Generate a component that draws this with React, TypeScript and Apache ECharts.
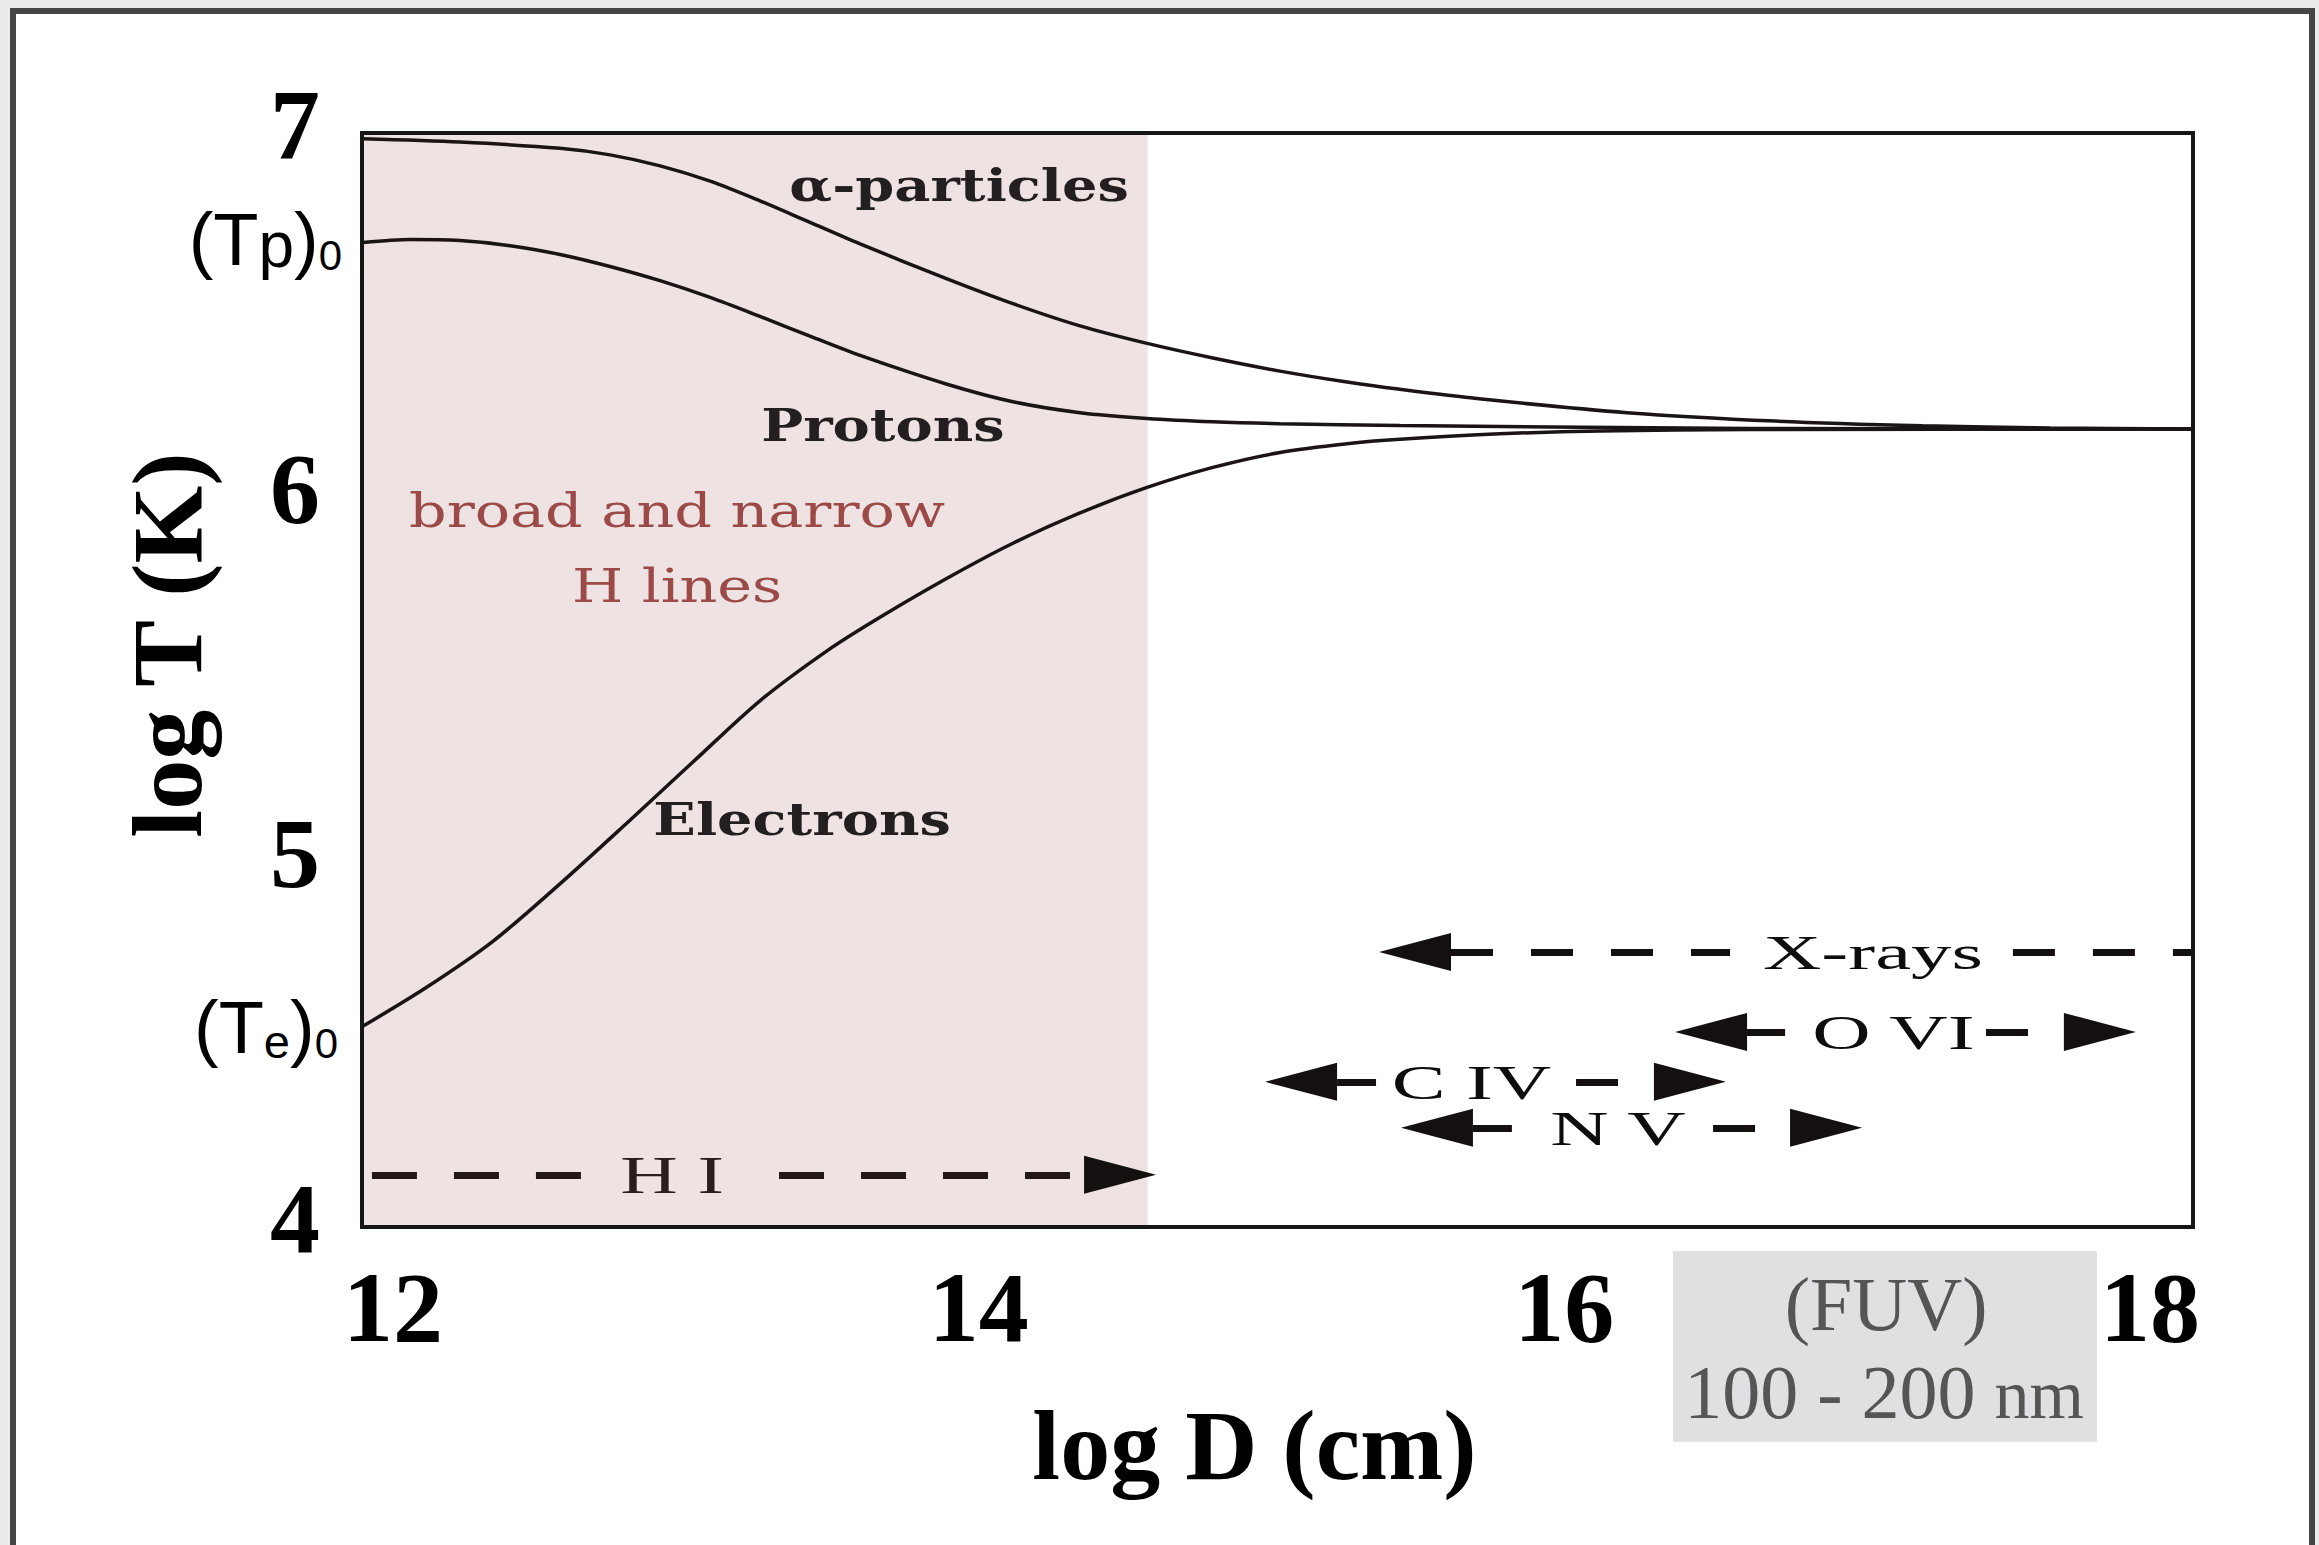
import React, { useEffect, useRef } from "react";
import * as echarts from "echarts";

// ---- axes ----
const X_MIN = 11.894;
const X_MAX = 18.147;
const Y_MIN = 4;
const Y_MAX = 7;
const xTickValues = [12, 14, 16, 18];

// ---- curves [log D, log T] ----
const alphaParticles: [number, number][] = [
  [11.898, 6.984], [12.229, 6.975], [12.57, 6.958], [12.741, 6.94], [12.912, 6.91],
  [13.083, 6.868], [13.253, 6.814], [13.424, 6.755], [13.595, 6.696], [13.892, 6.6],
  [14.117, 6.532], [14.346, 6.471], [14.575, 6.423], [14.8, 6.383], [15.029, 6.347],
  [15.258, 6.317], [15.439, 6.297], [15.709, 6.271], [16.214, 6.233], [16.72, 6.21],
  [17.225, 6.197], [17.659, 6.191], [18.147, 6.188],
];
const protons: [number, number][] = [
  [11.898, 6.7], [12.058, 6.708], [12.229, 6.705], [12.4, 6.691], [12.57, 6.667],
  [12.741, 6.634], [12.912, 6.595], [13.083, 6.549], [13.253, 6.497], [13.424, 6.443],
  [13.595, 6.39], [13.892, 6.311], [14.117, 6.263], [14.346, 6.233], [14.575, 6.217],
  [14.8, 6.208], [15.029, 6.203], [15.439, 6.198], [15.951, 6.194], [16.634, 6.19],
  [18.147, 6.188],
];
const electrons: [number, number][] = [
  [11.898, 4.551], [12.116, 4.658], [12.342, 4.784], [12.57, 4.941], [12.799, 5.108],
  [13.024, 5.275], [13.253, 5.443], [13.482, 5.58], [13.663, 5.672], [13.892, 5.779],
  [14.117, 5.875], [14.346, 5.958], [14.575, 6.028], [14.8, 6.083], [15.029, 6.124],
  [15.258, 6.148], [15.439, 6.16], [15.78, 6.175], [16.122, 6.183], [16.634, 6.187],
  [18.147, 6.188],
];

// shaded H-line region (log D from axis start to this value)
const shadeEnd = 14.577;

// ---- wavelength-band ranges: dashed segments [xStart, xEnd, y] ----
const bandNames = ["X-rays", "O VI", "C IV", "N V", "H I"];
const bandY = [4.754, 4.535, 4.398, 4.272, 4.143];
const bandLabelX = [17.054, 17.124, 15.683, 16.183, 12.953];
const bandSegments: [number, number, number][] = [
  [15.613, 16.566, 4.754], [17.532, 18.147, 4.754],
  [16.624, 16.754, 4.535], [17.44, 17.706, 4.535],
  [15.224, 15.357, 4.398], [16.04, 16.306, 4.398],
  [15.688, 15.821, 4.272], [16.508, 16.771, 4.272],
  [11.928, 12.642, 4.143], [13.318, 14.36, 4.143],
];
// arrowheads: [x of base, y, direction (-1 left, +1 right)]
const arrowHeads: [number, number, number][] = [
  [15.613, 4.754, -1],
  [16.624, 4.535, -1], [17.706, 4.535, 1],
  [15.224, 4.398, -1], [16.306, 4.398, 1],
  [15.688, 4.272, -1], [16.771, 4.272, 1],
  [14.36, 4.143, 1],
];

// ---- text annotations in data coordinates ----
const curveLabels = [
  { text: "α-particles", x: 13.933, y: 6.857 },
  { text: "Protons", x: 13.673, y: 6.199 },
  { text: "Electrons", x: 13.397, y: 5.119 },
];
const regionLabel = { text: "broad and narrow\nH lines", x: 12.97, y: 5.861 };
const initialTempLabels = [
  { text: "{b|(T}{p|p}{b|)}{s|0}", x: 11.826, y: 6.707 },
  { text: "{b|(T}{e|e}{b|)}{s|0}", x: 11.812, y: 4.547 },
];
const fuvBox = { x0: 16.371, x1: 17.819, y0: 3.934, y1: 3.411 };
const fuvLines = [
  { text: "{a|(FUV)}", x: 17.099, y: 3.789 },
  { text: "{a|100 - 200 }{n|nm}", x: 17.092, y: 3.548 },
];

const SERIF = "'Liberation Serif', 'Times New Roman', serif";
const WIDE_SERIF = "'DejaVu Serif', serif";
const SANS = "'Liberation Sans', Arial, sans-serif";
const FRAME = "#161616";
const CURVE = "#1a1414";

export default function App() {
  const ref = useRef<HTMLDivElement>(null);

  useEffect(() => {
    if (!ref.current) return;
    const chart = echarts.init(ref.current, null, { renderer: "svg" });

    const axisFrame = { show: true, onZero: false, lineStyle: { color: FRAME, width: 4, cap: "square" } };
    const curveSeries = (name: string, data: [number, number][]) => ({
      name,
      type: "line",
      data,
      showSymbol: false,
      smooth: 0.3,
      silent: true,
      lineStyle: { color: CURVE, width: 3.5 },
    });

    chart.setOption({
      animation: false,
      backgroundColor: "transparent",
      grid: { left: 362, top: 133, width: 1831, height: 1094, outerBoundsMode: "none" },
      xAxis: [
        {
          type: "value",
          min: X_MIN,
          max: X_MAX,
          position: "bottom",
          z: 10,
          axisLine: axisFrame,
          axisTick: { show: false },
          splitLine: { show: false },
          axisLabel: {
            customValues: xTickValues,
            fontSize: 100,
            fontWeight: "bold",
            fontFamily: SERIF,
            color: "#000",
            margin: 30,
          },
          name: "log D (cm)",
          nameLocation: "middle",
          nameGap: 168,
          nameMoveOverlap: false,
          nameTextStyle: {
            fontSize: 100,
            fontWeight: "bold",
            fontFamily: SERIF,
            color: "#000",
            padding: [0, 46, 0, 0],
          },
        },
        {
          type: "value",
          min: X_MIN,
          max: X_MAX,
          position: "top",
          z: 10,
          axisLine: axisFrame,
          axisTick: { show: false },
          axisLabel: { show: false },
          splitLine: { show: false },
        },
      ],
      yAxis: [
        {
          type: "value",
          min: Y_MIN,
          max: Y_MAX,
          interval: 1,
          position: "left",
          z: 10,
          axisLine: axisFrame,
          axisTick: { show: false },
          splitLine: { show: false },
          axisLabel: {
            margin: 42,
            formatter: (v: number) => `{v|${v}}`,
            rich: {
              v: {
                fontSize: 100,
                fontWeight: "bold",
                fontFamily: SERIF,
                color: "#000",
                padding: [0, 0, 18, 0],
              },
            },
          },
          name: "log T (K)",
          nameLocation: "middle",
          nameGap: 145,
          nameMoveOverlap: false,
          nameTextStyle: {
            fontSize: 100,
            fontWeight: "bold",
            fontFamily: SERIF,
            color: "#000",
            padding: [0, 0, 0, 70],
          },
        },
        {
          type: "value",
          min: Y_MIN,
          max: Y_MAX,
          position: "right",
          z: 10,
          axisLine: axisFrame,
          axisTick: { show: false },
          axisLabel: { show: false },
          splitLine: { show: false },
        },
      ],
      series: [
        {
          ...curveSeries("α-particles", alphaParticles),
          markArea: {
            silent: true,
            itemStyle: { color: "#efe2e3" },
            data: [[{ xAxis: X_MIN }, { xAxis: shadeEnd }]],
          },
        },
        curveSeries("Protons", protons),
        curveSeries("Electrons", electrons),
        {
          name: "bands",
          type: "lines",
          coordinateSystem: "cartesian2d",
          silent: true,
          symbol: "none",
          z: 4,
          lineStyle: { color: "#141010", width: 7, opacity: 1, type: [42, 38] },
          data: bandSegments.map((s) => ({
            coords: [
              [s[0], s[2]],
              [s[1], s[2]],
            ],
            lineStyle: s[2] === bandY[4] ? { type: [45, 37], color: "#231818" } : undefined,
          })),
        },
        {
          name: "arrowheads",
          type: "scatter",
          silent: true,
          z: 5,
          symbol: "triangle",
          symbolSize: [38, 72],
          itemStyle: { color: "#141010", opacity: 1 },
          data: arrowHeads.map((a) => ({
            value: [a[0], a[1]],
            symbolRotate: a[2] < 0 ? 90 : -90,
            symbolOffset: [a[2] * 36, 0],
          })),
        },
      ],
    });

    const px = (x: number, y: number) =>
      chart.convertToPixel({ seriesIndex: 0 }, [x, y]) as number[];

    const elements: any[] = [];

    curveLabels.forEach((l) => {
      const [cx, cy] = px(l.x, l.y);
      elements.push({
        type: "text",
        x: cx,
        y: cy,
        scaleX: 1.24,
        z: 30,
        silent: true,
        style: {
          text: l.text,
          fontFamily: WIDE_SERIF,
          fontWeight: "bold",
          fontSize: 45,
          fill: "#231f20",
          align: "center",
          verticalAlign: "middle",
        },
      });
    });

    {
      const [cx, cy] = px(regionLabel.x, regionLabel.y);
      elements.push({
        type: "text",
        x: cx,
        y: cy,
        scaleX: 1.25,
        z: 30,
        silent: true,
        style: {
          text: regionLabel.text,
          fontFamily: WIDE_SERIF,
          fontSize: 47,
          lineHeight: 75,
          fill: "#9c4a47",
          align: "center",
          verticalAlign: "middle",
        },
      });
    }

    bandNames.forEach((name, i) => {
      const [cx, cy] = px(bandLabelX[i], bandY[i]);
      const isH = i === 4;
      elements.push({
        type: "text",
        x: cx,
        y: cy,
        scaleX: isH ? 1.5 : 1.65,
        z: 30,
        silent: true,
        style: {
          text: name,
          fontFamily: SERIF,
          fontSize: isH ? 53 : 49,
          fill: isH ? "#2b1d1d" : "#0d0d0d",
          align: "center",
          verticalAlign: "middle",
        },
      });
    });

    initialTempLabels.forEach((l) => {
      const [cx, cy] = px(l.x, l.y);
      elements.push({
        type: "text",
        x: cx,
        y: cy,
        z: 30,
        silent: true,
        style: {
          text: l.text,
          align: "right",
          verticalAlign: "middle",
          fill: "#000",
          rich: {
            b: { fontFamily: SANS, fontSize: 74, fill: "#000", verticalAlign: "bottom" },
            p: { fontFamily: SANS, fontSize: 64, fill: "#000", verticalAlign: "bottom" },
            e: { fontFamily: SANS, fontSize: 47, fill: "#000", verticalAlign: "bottom" },
            s: { fontFamily: SANS, fontSize: 42, fill: "#000", verticalAlign: "bottom" },
          },
        },
      });
    });

    {
      const [x0, y0] = px(fuvBox.x0, fuvBox.y0);
      const [x1, y1] = px(fuvBox.x1, fuvBox.y1);
      elements.push({
        type: "rect",
        z: 25,
        silent: true,
        shape: { x: x0, y: y0, width: x1 - x0, height: y1 - y0 },
        style: { fill: "#e0e0e2" },
      });
      fuvLines.forEach((l) => {
        const [cx, cy] = px(l.x, l.y);
        elements.push({
          type: "text",
          x: cx,
          y: cy,
          z: 30,
          silent: true,
          style: {
            text: l.text,
            align: "center",
            verticalAlign: "middle",
            fill: "#555",
            rich: {
              a: { fontFamily: SERIF, fontSize: 76, fill: "#555", verticalAlign: "bottom" },
              n: { fontFamily: SERIF, fontSize: 70, fill: "#555", verticalAlign: "bottom" },
            },
          },
        });
      });
    }

    chart.setOption({ graphic: { elements } });

    return () => chart.dispose();
  }, []);

  return (
    <div
      style={{
        position: "fixed",
        left: 0,
        top: 0,
        width: 2319,
        height: 1545,
        background: "#ebebeb",
        overflow: "hidden",
      }}
    >
      <div
        style={{
          position: "absolute",
          left: 10,
          top: 8,
          width: 2305,
          height: 1600,
          boxSizing: "border-box",
          border: "6px solid #454545",
          background: "#fff",
        }}
      />
      <div
        ref={ref}
        style={{ position: "absolute", left: 0, top: 0, width: 2319, height: 1545 }}
      />
    </div>
  );
}
